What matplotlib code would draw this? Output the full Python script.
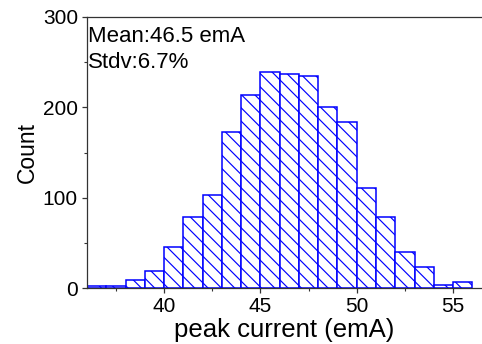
import numpy as np
import matplotlib
matplotlib.use("Agg")
import matplotlib.pyplot as plt

# histogram of peak current, 1 emA bins
bin_left = np.arange(36, 56)
counts = [2, 3, 9, 19, 46, 79, 103, 173, 214, 239,
          237, 235, 200, 184, 111, 79, 40, 23, 4, 7]

mean_text = "Mean:46.5 emA"
stdv_text = "Stdv:6.7%"

# lower dpi -> denser hatch; sizes in points scaled back up by k
dpi = 80
k = 100 / dpi

plt.rcParams['font.family'] = ['Liberation Sans', 'DejaVu Sans']
plt.rcParams['hatch.linewidth'] = 0.85 * k
plt.rcParams['hatch.color'] = 'blue'

fig = plt.figure(figsize=(482 / dpi, 344 / dpi), dpi=dpi)
ax = fig.add_axes([0.1805, 0.162, 0.8195, 0.7886])

ax.bar(bin_left, counts, width=1, align='edge', color='white',
       edgecolor='blue', linewidth=1.1 * k, hatch='\\\\')

ax.set_xlim(36, 56.5)
ax.set_ylim(0, 300)
ax.set_xticks([40, 45, 50, 55])
ax.set_xticks(np.arange(37.5, 56, 2.5), minor=True)
ax.set_yticks([0, 100, 200, 300])
ax.set_yticks([50, 150, 250], minor=True)

for s in ['left', 'bottom', 'top']:
    ax.spines[s].set_color('#333333')
    ax.spines[s].set_linewidth(0.9 * k)
ax.spines['right'].set_visible(False)

ax.tick_params(which='major', direction='out', length=3.5 * k, width=0.9 * k,
               color='#333333', labelsize=15 * k, pad=3 * k)
ax.tick_params(which='minor', direction='out', length=2 * k, width=0.8 * k,
               color='#333333')

ax.set_xlabel('peak current (emA)', fontsize=18.5 * k, labelpad=1 * k)
ax.set_ylabel('Count', fontsize=16.5 * k, labelpad=3 * k)

ax.text(0.003, 0.965, mean_text, transform=ax.transAxes, fontsize=16 * k,
        va='top', ha='left')
ax.text(0.003, 0.87, stdv_text, transform=ax.transAxes, fontsize=16 * k,
        va='top', ha='left')

fig.savefig('out.png', dpi=dpi)
